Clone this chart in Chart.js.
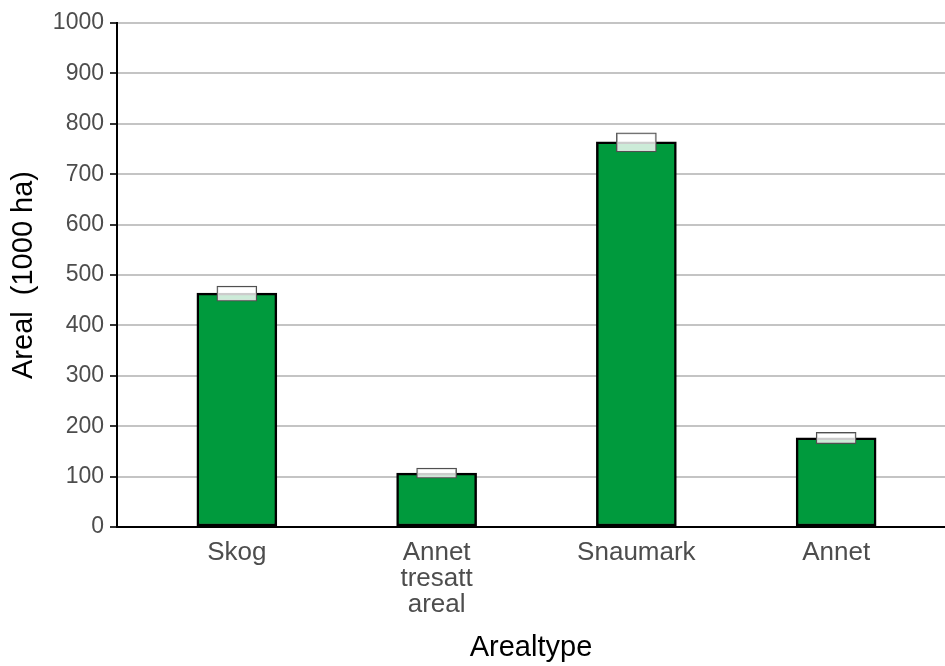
<!DOCTYPE html>
<html>
<head>
<meta charset="utf-8">
<script src="https://cdn.jsdelivr.net/npm/chart.js@4/dist/chart.umd.min.js"></script>
<style>
  html, body { margin: 0; padding: 0; background: #ffffff; overflow: hidden; }
  #wrap { width: 945px; height: 666px; position: relative; }
</style>
</head>
<body>
<div id="wrap"><canvas id="c" width="945" height="666"></canvas></div>
<script>
// Area by land type (1000 ha), with uncertainty interval per category
const categories = ["Skog", "Annet tresatt areal", "Snaumark", "Annet"];
const categoryLines = [["Skog"], ["Annet", "tresatt", "areal"], ["Snaumark"], ["Annet"]];
const areal = [464, 107, 764, 177];
const lower = [448, 97, 744, 165];
const upper = [478, 117, 782, 188];
const yTicks = [0, 100, 200, 300, 400, 500, 600, 700, 800, 900, 1000];

const FONT = "'Liberation Sans', Arial, sans-serif";

const barData = categories.map((c, i) => ({ x: i + 1, y: areal[i] }));
const ciData = categories.map((c, i) => ({ x: i + 1, y: [lower[i], upper[i]] }));

new Chart(document.getElementById('c'), {
  type: 'bar',
  data: {
    datasets: [
      {
        label: 'Areal',
        data: barData,
        backgroundColor: '#009a3d',
        borderColor: '#000000',
        borderWidth: 2.5,
        borderSkipped: false,
        barThickness: 80,
        grouped: false,
        order: 2
      },
      {
        label: 'Usikkerhet',
        data: ciData,
        backgroundColor: 'rgba(255,255,255,0.8)',
        borderColor: '#505050',
        borderWidth: 1.3,
        borderSkipped: false,
        barThickness: 40,
        grouped: false,
        order: 1
      }
    ]
  },
  options: {
    responsive: false,
    animation: false,
    events: [],
    layout: { padding: { top: 23, right: 0, left: 0, bottom: 0 } },
    plugins: { legend: { display: false }, tooltip: { enabled: false } },
    scales: {
      x: {
        type: 'linear',
        min: 0.4,
        max: 4.545,
        offset: false,
        afterBuildTicks: (axis) => { axis.ticks = categories.map((c, i) => ({ value: i + 1 })); },
        afterFit: (scale) => { scale.height = 139; },
        ticks: {
          autoSkip: false,
          maxRotation: 0,
          padding: 6,
          color: '#4d4d4d',
          font: { family: FONT, size: 26, lineHeight: 1.0 },
          callback: (v) => categoryLines[v - 1]
        },
        grid: { display: false, drawOnChartArea: false, drawTicks: true, tickLength: 7, tickColor: '#333333', tickWidth: 2 },
        border: { display: true, color: '#000000', width: 2 },
        title: {
          display: true,
          text: 'Arealtype',
          color: '#000000',
          font: { family: FONT, size: 29 },
          padding: { top: 0, bottom: 1 },
          align: 'center'
        }
      },
      y: {
        min: 0,
        max: 1000,
        afterBuildTicks: (axis) => { axis.ticks = yTicks.map(v => ({ value: v })); },
        afterFit: (scale) => { scale.width = 117; },
        ticks: {
          padding: 6,
          color: '#4d4d4d',
          font: { family: FONT, size: 23 },
          callback: (v) => String(v)
        },
        grid: { color: '#c4c4c4', lineWidth: 2, drawTicks: true, tickLength: 7, tickColor: '#333333', tickWidth: 2 },
        border: { display: true, color: '#000000', width: 2 },
        title: {
          display: true,
          text: 'Areal  (1000 ha)',
          color: '#000000',
          font: { family: FONT, size: 29 },
          padding: { top: 7, bottom: 0 }
        }
      }
    }
  }
});
</script>
</body>
</html>
